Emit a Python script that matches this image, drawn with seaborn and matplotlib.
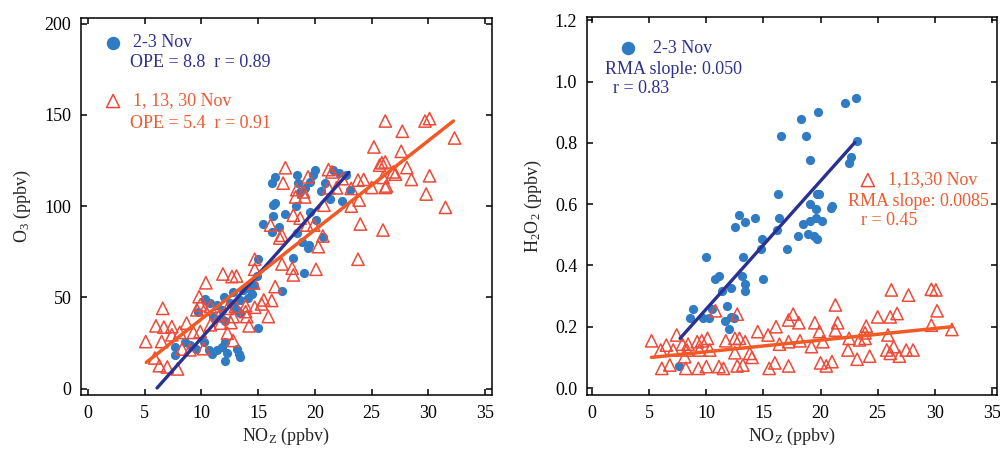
import matplotlib
matplotlib.use("Agg")
import matplotlib.pyplot as plt
import seaborn as sns

# data
# left panel: O3 vs NOz
nov23_noz = [20.0, 19.8, 18.4, 16.5, 16.2, 18.5, 19.1, 18.7, 19.6, 20.9, 22.1, 22.7,
             20.5, 21.3, 22.4, 23.1, 16.5, 16.3, 18.3, 19.6, 17.4, 16.3, 20.1, 15.4,
             16.8, 16.2, 18.4, 20.7, 18.9, 19.4, 19.5, 18.1, 15.0, 19.0, 14.9, 17.1,
             14.6, 12.8, 13.7, 14.1, 13.4, 12.5, 10.3, 9.7, 11.4, 11.8, 11.0, 11.7,
             12.1, 13.1, 13.4, 15.0, 8.6, 9.0, 7.7, 7.7, 9.5, 10.2, 10.7, 10.9,
             11.4, 11.8, 12.1, 12.3, 12.1, 13.1, 13.4, 13.3, 14.3, 12.0, 12.9, 14.5,
             10.8, 21.6]
nov23_o3 = [119.7, 117, 117, 116, 112.6, 112.7, 109.8, 107.8, 113, 112.7, 118, 117,
            108, 103.8, 103, 108.7, 101.6, 100.5, 100, 97, 95.6, 94.5, 92.3, 90,
            88.7, 86, 85, 83, 80.5, 77, 78.5, 71.5, 71, 63.5, 61.7, 53.7,
            56.8, 53, 54, 49.7, 48.6, 47, 49, 42, 46, 43, 39.5, 38.8,
            36.8, 43, 41.5, 33.5, 25.8, 24, 23, 18.6, 21.8, 25.8, 21.3, 19,
            21.3, 23, 25.3, 19.5, 14.9, 21.7, 17.3, 19, 54.6, 50, 45.5, 52,
            47, 120]

nov_other_noz = [17.4, 21.2, 19.4, 17.2, 18.4, 19.0, 18.3, 19.1, 21.2, 21.9, 20.8,
                 18.1, 18.7, 16.1, 19.3, 19.9, 17.1, 16.9, 20.7, 20.3, 23.8, 14.7,
                 17.1, 18.0, 18.1, 20.1, 14.7, 11.9, 12.7, 13.1, 10.4, 14.6, 16.5,
                 9.8, 9.9, 15.5, 16.2, 15.3, 13.9, 14.7, 10.3, 10.8, 9.6, 6.6,
                 12.3, 13.0, 13.9, 12.8, 14.0, 11.6, 15.9, 8.7, 6.0, 6.7, 7.4,
                 10.8, 11.7, 12.6, 14.2, 8.1, 7.4, 9.3, 9.9, 12.3, 5.1, 6.5,
                 12.8, 8.3, 9.0, 10.2, 5.9, 6.3, 7.0, 7.9,
                 26.2, 29.7, 30.1, 27.7, 32.3, 25.2, 27.6, 25.9, 26.2, 25.7, 28.1,
                 26.9, 27.1, 30.1, 28.5, 26.0, 24.3, 23.8, 25.0, 26.2, 26.3, 29.8,
                 23.2, 23.9, 23.2, 31.5, 24.0, 26.0, 22.4, 21.5]
nov_other_o3 = [121, 120, 116, 112.6, 109, 107.8, 105, 105, 110, 110, 100.5,
                95, 93.4, 89.6, 89.6, 89.6, 84, 82.5, 83.6, 77.8, 70.9, 70.9,
                68.3, 66, 62.3, 65.4, 65.4, 62.8, 61.4, 61.7, 58, 57.8, 55.9,
                50.4, 45.9, 48.6, 48.3, 46.4, 45.4, 44.6, 43.5, 45, 43.2, 44,
                44, 45, 42.2, 39.5, 39.5, 40.4, 39.5, 35.9, 34.4, 33.7, 34,
                35, 35.9, 36.2, 34.4, 30.8, 29.5, 30.8, 31.3, 30.4, 25.8, 25.8,
                26.4, 21.7, 21.3, 21.9, 16.8, 12.6, 11.9, 10.8,
                146.6, 146.6, 147.9, 141, 137.3, 132.4, 130, 123.7, 124.2, 122.4, 121.1,
                118.7, 117.5, 116.6, 114.6, 115.7, 114.6, 114.2, 110.2, 110.2, 111, 106.6,
                109.7, 103.3, 100, 99.3, 90.2, 86.9, 115, 118.7]

# fitted lines (end points)
ope_fit_nov23_x = [6.1, 23.0]
ope_fit_nov23_y = [0.4, 118.5]
ope_fit_other_x = [5.15, 32.2]
ope_fit_other_y = [14.4, 146.6]

# right panel: H2O2 vs NOz
h2o2_nov23_noz = [22.1, 19.8, 18.3, 16.5, 18.7, 19.1, 16.3, 19.7, 19.9, 19.1, 19.6,
                  20.9, 21.0, 12.9, 14.3, 13.4, 12.5, 16.4, 19.1, 19.6, 20.1, 18.5,
                  16.2, 18.9, 19.4, 19.7, 18.0, 14.9, 14.8, 17.1,
                  10.0, 13.2, 11.1, 10.8, 13.1, 15.0, 13.4, 13.4, 12.2, 11.4, 11.8,
                  8.8, 8.6, 9.7, 10.2, 11.6, 12.2, 12.4, 12.0, 7.6, 10.5,
                  23.1, 23.2, 22.7, 22.5]
h2o2_nov23 = [0.930, 0.901, 0.879, 0.822, 0.822, 0.743, 0.633, 0.633, 0.633, 0.602, 0.585,
              0.586, 0.593, 0.564, 0.555, 0.543, 0.526, 0.555, 0.545, 0.555, 0.545, 0.535,
              0.515, 0.504, 0.496, 0.485, 0.496, 0.485, 0.455, 0.455,
              0.426, 0.426, 0.365, 0.356, 0.365, 0.356, 0.338, 0.317, 0.327, 0.316, 0.268,
              0.257, 0.228, 0.228, 0.228, 0.219, 0.232, 0.227, 0.191, 0.072, 0.257,
              0.945, 0.805, 0.755, 0.735]

h2o2_other_noz = [5.2, 6.0, 6.5, 7.4, 7.1, 8.1, 7.9, 8.4, 9.2, 9.6, 10.1, 10.3, 10.8,
                  12.7, 11.7, 12.5, 12.9, 13.4, 13.8, 14.0, 12.5, 14.5, 15.4, 16.1,
                  17.2, 17.6, 18.1, 16.4, 17.2, 18.2, 19.2, 19.5, 19.9, 20.2, 21.3,
                  21.5, 21.3, 22.4, 23.2, 22.5, 23.4, 24.0, 23.9, 23.9, 25.0, 26.1,
                  26.7, 25.9, 26.4, 25.8, 26.1, 26.9, 27.5, 28.1, 26.2, 27.7, 29.7,
                  30.1, 30.2, 29.7, 31.5, 6.1, 6.8, 8.2, 9.3, 10.0, 11.1, 11.5,
                  12.7, 13.2, 15.5, 16.0, 17.2, 20.0, 20.5, 21.0, 24.3, 9.4, 8.3]
h2o2_other = [0.154, 0.124, 0.140, 0.173, 0.124, 0.102, 0.143, 0.143, 0.151, 0.154, 0.162,
              0.124, 0.252, 0.241, 0.154, 0.162, 0.162, 0.151, 0.113, 0.100, 0.115, 0.184,
              0.173, 0.200, 0.222, 0.241, 0.213, 0.143, 0.151, 0.154, 0.135, 0.213, 0.184,
              0.151, 0.271, 0.213, 0.189, 0.124, 0.094, 0.162, 0.157, 0.202, 0.180, 0.162,
              0.232, 0.232, 0.243, 0.173, 0.135, 0.124, 0.113, 0.104, 0.124, 0.124, 0.320,
              0.303, 0.322, 0.320, 0.252, 0.205, 0.191, 0.064, 0.075, 0.064, 0.064, 0.070,
              0.070, 0.064, 0.072, 0.075, 0.064, 0.082, 0.072, 0.082, 0.072, 0.086, 0.104,
              0.124, 0.124]

rma_fit_nov23_x = [7.7, 23.0]
rma_fit_nov23_y = [0.162, 0.801]
rma_fit_other_x = [5.2, 31.5]
rma_fit_other_y = [0.100, 0.200]

x_ticks = [0, 5, 10, 15, 20, 25, 30, 35]
o3_ticks = [0, 50, 100, 150, 200]
h2o2_ticks = [0.0, 0.2, 0.4, 0.6, 0.8, 1.0, 1.2]

# colours
dot_blue = "#2f7cc5"
line_blue = "#2b3190"
text_blue = "#2e3192"
tri_red = "#ee4a38"
line_orange = "#f15a24"
text_orange = "#f05a30"

sns.set_theme(style="ticks")
plt.rcParams["font.family"] = ["Liberation Serif", "DejaVu Serif"]
plt.rcParams["mathtext.fontset"] = "custom"
plt.rcParams["mathtext.rm"] = "Liberation Serif"
plt.rcParams["mathtext.it"] = "Liberation Serif:italic"
plt.rcParams["axes.linewidth"] = 1.1
plt.rcParams["xtick.direction"] = "in"
plt.rcParams["ytick.direction"] = "in"
plt.rcParams["xtick.top"] = True
plt.rcParams["ytick.right"] = True
plt.rcParams["xtick.major.size"] = 4.5
plt.rcParams["ytick.major.size"] = 4.5
plt.rcParams["xtick.major.width"] = 1.1
plt.rcParams["ytick.major.width"] = 1.1
plt.rcParams["xtick.color"] = "black"
plt.rcParams["ytick.color"] = "black"
plt.rcParams["axes.edgecolor"] = "black"

fs = 13

fig = plt.figure(figsize=(10, 4.51), dpi=100)
ax1 = fig.add_axes([0.081, 0.124, 0.411, 0.836])
ax2 = fig.add_axes([0.587, 0.124, 0.410, 0.838])

# ---- left panel
sns.scatterplot(x=nov23_noz, y=nov23_o3, ax=ax1, color=dot_blue, s=44,
                linewidth=0, zorder=2)
sns.scatterplot(x=nov_other_noz, y=nov_other_o3, ax=ax1, marker="^", s=78,
                facecolors="none", edgecolor=tri_red, linewidth=1.1, zorder=3)
sns.lineplot(x=ope_fit_nov23_x, y=ope_fit_nov23_y, ax=ax1, color=line_blue, lw=2.4, zorder=4)
sns.lineplot(x=ope_fit_other_x, y=ope_fit_other_y, ax=ax1, color=line_orange, lw=2.5, zorder=5)

ax1.set_xlim(-0.6, 35.6)
ax1.set_ylim(-3.5, 203)
ax1.set_xticks(x_ticks)
ax1.set_yticks(o3_ticks)
ax1.set_xlabel(r"NO$_\mathrm{Z}$ (ppbv)", fontsize=fs, labelpad=3)
ax1.set_ylabel(r"O$_\mathrm{3}$ (ppbv)", fontsize=fs, labelpad=8)
ax1.tick_params(labelsize=fs, pad=7)

ax1.scatter([0.078], [0.934], transform=ax1.transAxes, s=75, color=dot_blue, clip_on=False)
ax1.text(0.127, 0.934, "2-3 Nov", transform=ax1.transAxes, fontsize=fs, color=text_blue, va="center")
ax1.text(0.119, 0.881, "OPE = 8.8  r = 0.89", transform=ax1.transAxes, fontsize=fs,
         color=text_blue, va="center")
ax1.scatter([0.078], [0.780], transform=ax1.transAxes, s=90, marker="^", facecolors="none",
            edgecolors=tri_red, linewidths=1.1, clip_on=False)
ax1.text(0.127, 0.780, "1, 13, 30 Nov", transform=ax1.transAxes, fontsize=fs,
         color=text_orange, va="center")
ax1.text(0.119, 0.719, "OPE = 5.4  r = 0.91", transform=ax1.transAxes, fontsize=fs,
         color=text_orange, va="center")

# ---- right panel
sns.scatterplot(x=h2o2_nov23_noz, y=h2o2_nov23, ax=ax2, color=dot_blue, s=44,
                linewidth=0, zorder=2)
sns.scatterplot(x=h2o2_other_noz, y=h2o2_other, ax=ax2, marker="^", s=78,
                facecolors="none", edgecolor=tri_red, linewidth=1.1, zorder=3)
sns.lineplot(x=rma_fit_nov23_x, y=rma_fit_nov23_y, ax=ax2, color=line_blue, lw=2.4, zorder=4)
sns.lineplot(x=rma_fit_other_x, y=rma_fit_other_y, ax=ax2, color=line_orange, lw=2.5, zorder=5)

ax2.set_xlim(-0.45, 35.45)
ax2.set_ylim(-0.023, 1.21)
ax2.set_xticks(x_ticks)
ax2.set_yticks(h2o2_ticks)
ax2.set_yticklabels([f"{v:.1f}" for v in h2o2_ticks])
ax2.set_xlabel(r"NO$_\mathrm{Z}$ (ppbv)", fontsize=fs, labelpad=3)
ax2.set_ylabel(r"H$_\mathrm{2}$O$_\mathrm{2}$ (ppbv)", fontsize=fs, labelpad=8)
ax2.tick_params(labelsize=fs, pad=7)

ax2.scatter([0.100], [0.918], transform=ax2.transAxes, s=75, color=dot_blue, clip_on=False)
ax2.text(0.161, 0.918, "2-3 Nov", transform=ax2.transAxes, fontsize=fs, color=text_blue, va="center")
ax2.text(0.044, 0.862, "RMA slople: 0.050", transform=ax2.transAxes, fontsize=fs,
         color=text_blue, va="center")
ax2.text(0.063, 0.810, "r = 0.83", transform=ax2.transAxes, fontsize=fs, color=text_blue, va="center")
ax2.scatter([0.685], [0.569], transform=ax2.transAxes, s=90, marker="^", facecolors="none",
            edgecolors=tri_red, linewidths=1.1, clip_on=False)
ax2.text(0.734, 0.569, "1,13,30 Nov", transform=ax2.transAxes, fontsize=fs,
         color=text_orange, va="center")
ax2.text(0.637, 0.513, "RMA slope: 0.0085", transform=ax2.transAxes, fontsize=fs,
         color=text_orange, va="center")
ax2.text(0.668, 0.463, "r = 0.45", transform=ax2.transAxes, fontsize=fs, color=text_orange, va="center")

fig.savefig("out.png", dpi=100)
